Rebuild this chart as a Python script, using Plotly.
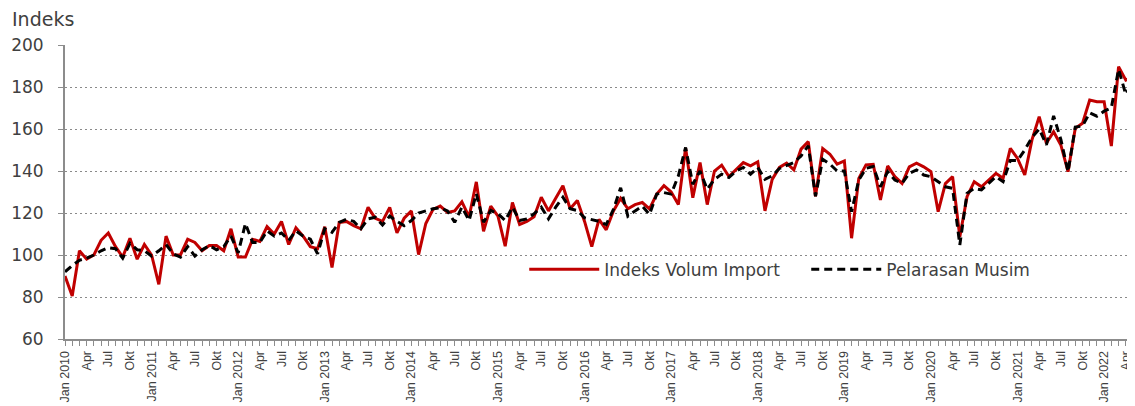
import plotly.graph_objects as go

years = list(range(2010, 2023))
month_names = ["Jan", "Feb", "Mac", "Apr", "Mei", "Jun", "Jul", "Ogo", "Sep", "Okt", "Nov", "Dis"]

categories = [f"{m} {y}" for y in years for m in month_names][:149]  # Jan 2010 .. Mei 2022

import_volume = [
    # 2010
    90, 80.5, 102, 98, 100, 107, 110.5, 104, 99, 108, 98, 105,
    # 2011
    100, 86, 109, 100, 100, 107.5, 106, 102, 104.5, 104.5, 102, 112.5,
    # 2012
    99, 99, 107.5, 106.5, 113.5, 110, 116, 105, 113, 109, 104, 103,
    # 2013
    113.5, 94, 115.5, 116, 114, 112.5, 122.7, 117.5, 116, 122.7, 110.5, 117.5,
    # 2014
    121, 100.2, 115, 121.7, 123.3, 120.3, 121, 125.3, 118.2, 134.8, 111.3, 123.3,
    # 2015
    118.5, 104.2, 125, 114.5, 116, 118.2, 127.5, 121, 127, 133, 122, 126,
    # 2016
    116, 104, 117, 112, 121, 127, 122, 124, 125, 122, 129, 133,
    # 2017
    130, 124, 151, 127.3, 144, 124, 140, 142.8, 137.4, 140.9, 144, 142.5,
    # 2018
    144.4, 121, 136, 141.7, 143.7, 140.5, 150.4, 154, 128, 150.7, 148, 143.3,
    # 2019
    144.8, 108, 136.5, 142.9, 143.2, 126.2, 142.4, 137.3, 134.1, 142, 143.7, 142,
    # 2020
    139.7, 120.6, 134, 137.3, 108.7, 127.8, 134.9, 132.5, 135.7, 138.9, 136.5, 150.8,
    # 2021
    146, 138.1, 154.8, 165.9, 153.2, 158.7, 152.4, 139.7, 160.3, 162.7, 173.8, 173,
    # 2022
    173, 151.9, 189.7, 183.3, 185,
]

seasonally_adjusted = [
    # 2010
    92, 95, 97.5, 98.5, 100, 102, 103.5, 103, 98.5, 105.5, 102.5, 102,
    # 2011
    99.5, 102, 105, 100.5, 99, 104, 99.5, 102.5, 104.5, 102.5, 104, 109,
    # 2012
    101, 115, 106, 106, 111.5, 109, 110.5, 107, 111.5, 109, 107.5, 100.5,
    # 2013
    112.5, 110.8, 115.5, 117, 116, 112.5, 117.2, 118, 114.3, 118.5, 116, 114,
    # 2014
    116.4, 120, 121, 122, 122.5, 121, 115.6, 122.8, 116.4, 129.2, 115.6, 121.2,
    # 2015
    119.6, 116.4, 122.8, 116.4, 117.2, 119.6, 122.8, 117.2, 122.8, 127.5, 122, 121.2,
    # 2016
    117.7, 117, 116, 114.5, 121.7, 132, 118.5, 121, 123.3, 119.3, 129, 129.7,
    # 2017
    129, 137.7, 151.2, 133.7, 140, 131.3, 136, 138.5, 136.9, 140, 141.7, 138.5,
    # 2018
    141.7, 136, 137.7, 141.2, 142.5, 144, 147.2, 152, 128, 145.6, 143.3, 140,
    # 2019
    140, 120.6, 135.7, 141.3, 142.1, 132.5, 139.7, 135.7, 134.1, 138.9, 140.5, 138.1,
    # 2020
    137.3, 134.9, 132.5, 131.7, 104.8, 129.4, 131.7, 131, 134.1, 137.3, 134.9, 145,
    # 2021
    145, 150, 156, 160, 152.4, 166.2, 155, 139.7, 160.9, 161.4, 167.7, 166.1,
    # 2022
    168.5, 170.1, 188.4, 176.5, 183,
]

tick_text = []
for c in categories:
    m, y = c.split(" ")
    if m == "Jan":
        tick_text.append(f"Jan {y}")
    elif m in ("Apr", "Jul", "Okt"):
        tick_text.append(m)
    else:
        tick_text.append("")

y_ticks = [60, 80, 100, 120, 140, 160, 180, 200]

font_family = "DejaVu Sans, Liberation Sans, Arial, sans-serif"
tick_family = "Liberation Sans, Arial, sans-serif"
text_color = "#404040"
axis_color = "#8c8c8c"

fig = go.Figure()
fig.add_trace(go.Scatter(
    x=categories, y=import_volume, mode="lines", name="Indeks Volum Import",
    line=dict(color="#C00000", width=3),
))
fig.add_trace(go.Scatter(
    x=categories, y=seasonally_adjusted, mode="lines", name="Pelarasan Musim",
    line=dict(color="#000000", width=3, dash="8px,5px"),
))

# the page body adds an 8px offset, so the figure is 8px smaller and margins are shifted
fig.update_layout(
    width=1127, height=398,
    margin=dict(l=57, r=2, t=37, b=67, autoexpand=False),
    paper_bgcolor="white", plot_bgcolor="white",
    font=dict(family=font_family, color=text_color),
    showlegend=True,
    legend=dict(
        orientation="h", x=0.430, y=0.236, xanchor="left", yanchor="middle",
        font=dict(size=17, color=text_color, family=font_family),
        bgcolor="rgba(255,255,255,0)", entrywidth=197, entrywidthmode="pixels",
        itemwidth=70,
    ),
    annotations=[dict(
        text="Indeks", xref="paper", yref="paper", x=-0.0515, y=1.0, yshift=26,
        xanchor="left", yanchor="middle", showarrow=False,
        font=dict(size=19, color=text_color, family=font_family),
    )],
)

fig.update_xaxes(
    type="category", categoryorder="array", categoryarray=categories,
    range=[0, len(categories) - 1],
    tickmode="array", tickvals=categories, ticktext=tick_text,
    tickangle=-90, tickfont=dict(size=12.5, color=text_color, family=tick_family),
    ticks="outside", ticklen=5, tickcolor=axis_color, tickwidth=1,
    showline=True, linecolor=axis_color, linewidth=2,
    showgrid=False, zeroline=False, automargin=False,
)
fig.update_yaxes(
    range=[60, 200], tickmode="array", tickvals=y_ticks,
    tickfont=dict(size=17, color=text_color, family=font_family),
    ticks="outside", ticklen=5, tickcolor=axis_color, tickwidth=1,
    showline=True, linecolor=axis_color, linewidth=2,
    showgrid=True, gridcolor="#8a8a8a", gridwidth=1, griddash="2px,3px",
    zeroline=False, ticklabelstandoff=11, automargin=False,
)

fig.write_html("out.html")
